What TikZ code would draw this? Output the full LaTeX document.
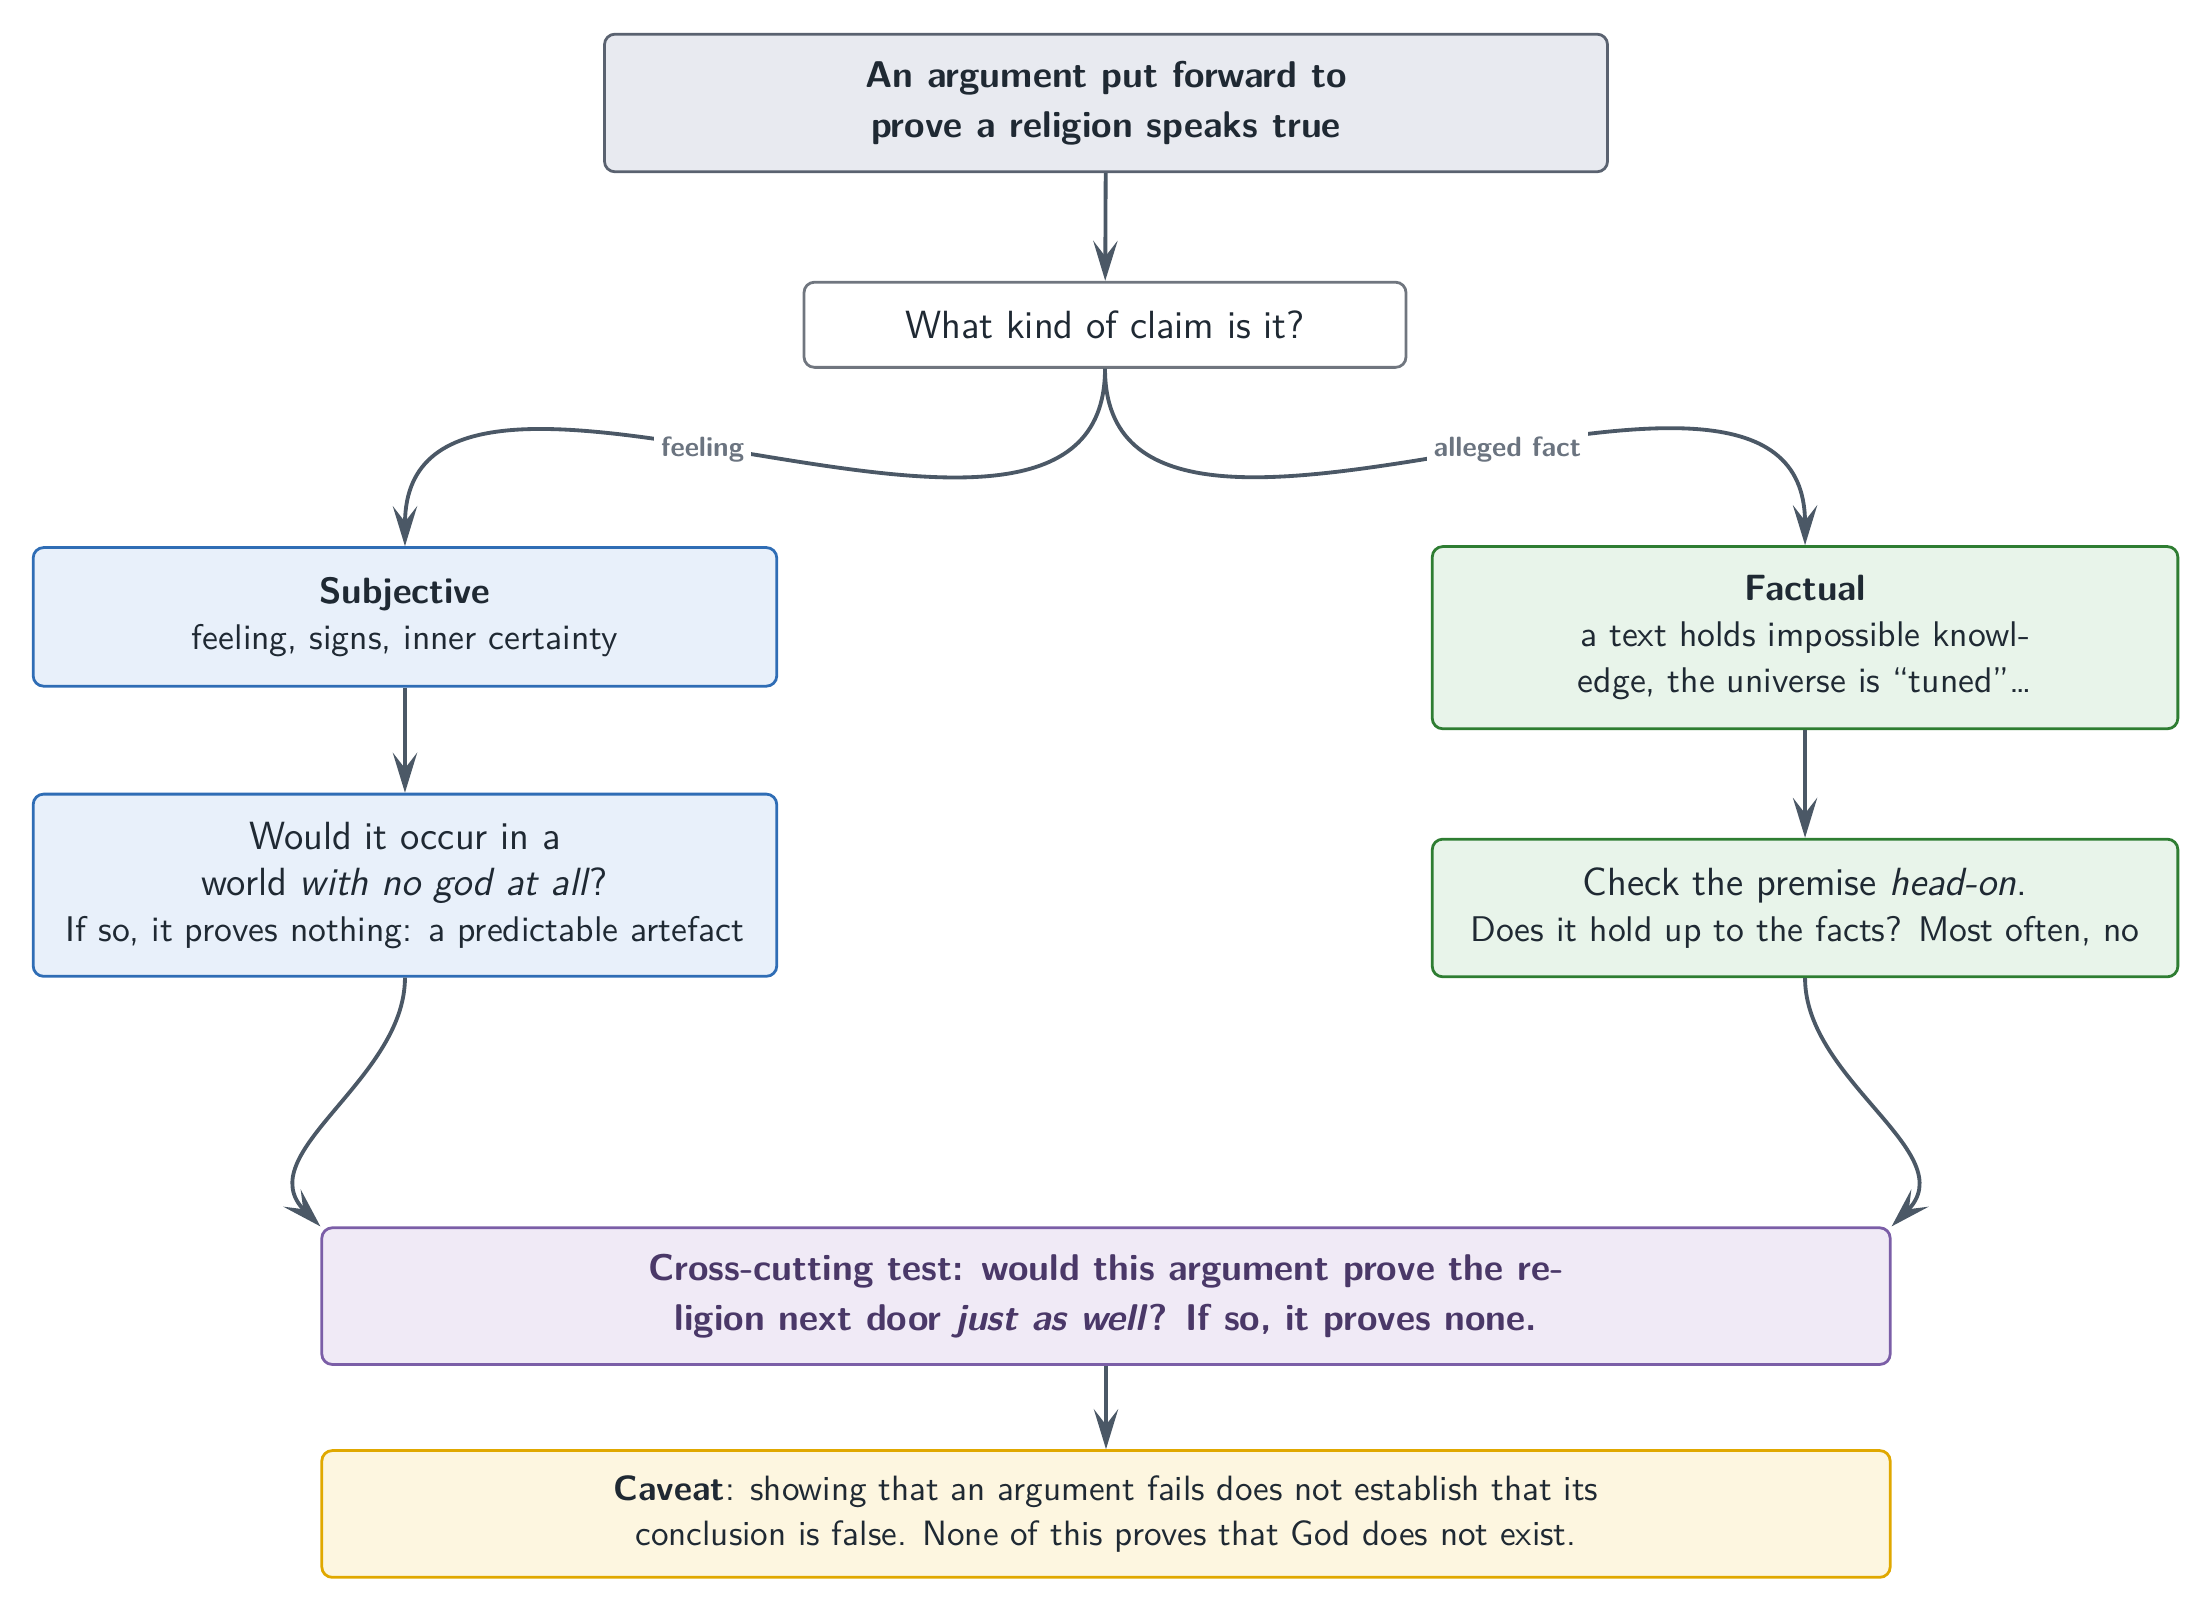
\documentclass[tikz,border=0pt]{standalone}
\usetikzlibrary{arrows.meta}

\definecolor{inkdark}{HTML}{1F2933}
\definecolor{arrowgrey}{HTML}{4B5866}
\definecolor{labelgrey}{HTML}{6B7480}
\definecolor{topfill}{HTML}{E8EAF0}
\definecolor{topdraw}{HTML}{5A6270}
\definecolor{qdraw}{HTML}{70767F}
\definecolor{subjfill}{HTML}{E8F0FA}
\definecolor{subjdraw}{HTML}{2F6DB5}
\definecolor{factfill}{HTML}{E8F4EA}
\definecolor{factdraw}{HTML}{2E7D32}
\definecolor{crossfill}{HTML}{F0EAF6}
\definecolor{crossdraw}{HTML}{7B5EA7}
\definecolor{crosstext}{HTML}{4A3868}
\definecolor{cavfill}{HTML}{FDF6E0}
\definecolor{cavdraw}{HTML}{E0A800}

\tikzset{
  box/.style={rounded corners=3pt, line width=0.8pt, align=center,
    text=inkdark, inner sep=4pt,
    font=\sffamily\fontsize{10.25}{13.2}\selectfont},
  flow/.style={draw=arrowgrey, line width=1.1pt,
    -{Stealth[length=11.5pt,width=7pt,inset=4.5pt]}},
  branch/.style={fill=white, text=labelgrey, inner sep=2pt,
    font=\sffamily\bfseries\fontsize{8}{10}\selectfont}
}

\begin{document}
\begin{tikzpicture}

\useasboundingbox (0,0) rectangle (22.34,-16.30);

% ===== Boxes =====
\node[box, fill=topfill, draw=topdraw, minimum width=10.13cm, minimum height=1.39cm,
  font=\sffamily\bfseries\fontsize{10.7}{14.3}\selectfont] (top) at (11.17,-1.04)
  {An argument put forward to\\prove a religion speaks true};

\node[box, fill=white, draw=qdraw, minimum width=6.08cm, minimum height=0.86cm,
  font=\sffamily\fontsize{11.3}{14.5}\selectfont] (kind) at (11.16,-3.28)
  {What kind of claim is it?};

\node[box, fill=subjfill, draw=subjdraw, minimum width=7.51cm, minimum height=1.40cm] (subj) at (4.09,-6.23)
  {{\bfseries\fontsize{10.5}{14.3}\selectfont Subjective}\\feeling, signs, inner certainty};

\node[box, fill=subjfill, draw=subjdraw, minimum width=7.51cm, minimum height=1.84cm] (world) at (4.09,-8.94)
  {{\fontsize{11.3}{14.5}\selectfont Would it occur in a}\\
   {\fontsize{11.3}{14.5}\selectfont world \emph{with no god at all}?}\\
   If so, it proves nothing: a predictable artefact};

\node[box, fill=factfill, draw=factdraw, minimum width=7.53cm, minimum height=1.84cm] (fact) at (18.23,-6.44)
  {{\bfseries\fontsize{10.5}{14.3}\selectfont Factual}\\a text holds impossible knowl-\\edge, the universe is ``tuned''\ldots};

\node[box, fill=factfill, draw=factdraw, minimum width=7.53cm, minimum height=1.39cm] (check) at (18.23,-9.17)
  {{\fontsize{11.3}{14.5}\selectfont Check the premise \emph{head-on}.}\\Does it hold up to the facts? Most often, no};

\node[box, fill=crossfill, draw=crossdraw, text=crosstext, minimum width=15.84cm, minimum height=1.38cm,
  font=\sffamily\bfseries\fontsize{10.7}{14.3}\selectfont] (cross) at (11.17,-13.09)
  {Cross-cutting test: would this argument prove the re-\\ligion next door \emph{just as well}? If so, it proves none.};

\node[box, fill=cavfill, draw=cavdraw, minimum width=15.84cm, minimum height=1.28cm,
  font=\sffamily\fontsize{10.1}{13.2}\selectfont] (caveat) at (11.17,-15.29)
  {\textbf{Caveat}: showing that an argument fails does not establish that its\\conclusion is false. None of this proves that God does not exist.};

% ===== Arrows =====
\draw[flow] (top) -- (kind);
\draw[flow] (kind.south) to[out=-90,in=90] node[branch, pos=0.55] {feeling} (subj.north);
\draw[flow] (kind.south) to[out=-90,in=90] node[branch, pos=0.55] {alleged fact} (fact.north);
\draw[flow] (subj) -- (world);
\draw[flow] (fact) -- (check);
\draw[flow] (world.south) to[out=-90,in=135] (cross.north west);
\draw[flow] (check.south) to[out=-90,in=45] (cross.north east);
\draw[flow] (cross) -- (caveat);

\end{tikzpicture}
\end{document}
